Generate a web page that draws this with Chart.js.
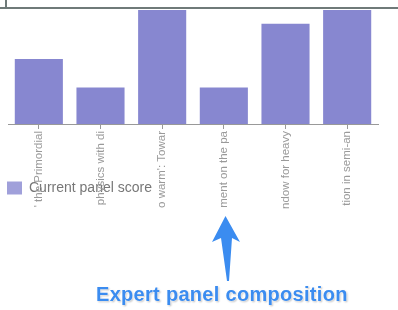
<!DOCTYPE html>
<html>
<head>
<meta charset="utf-8">
<script src="https://cdn.jsdelivr.net/npm/chart.js@4/dist/chart.umd.min.js"></script>
<style>
  html, body { margin: 0; padding: 0; background: #fff; }
  #wrap { position: relative; width: 398px; height: 310px; overflow: hidden; }
  #c { position: absolute; left: 0; top: 0; }
  .frameH { position: absolute; left: 0; top: 7px; width: 398px; height: 2px; background: #6f7a79; }
  .frameV { position: absolute; left: 5px; top: 0; width: 2px; height: 8px; background: #6f7a79; }
  #arrow { position: absolute; left: 0; top: 0; }
  #note { position: absolute; left: 96px; top: 284px; font: bold 20px "Liberation Sans", Arial, sans-serif; line-height: 20px;
          letter-spacing: 0.3px; color: #3b8cf0; white-space: nowrap;
          text-shadow: 0 0 2px #fff, 0 0 3px #fff, 1px 1px 2px rgba(0,0,0,0.35); }
</style>
</head>
<body>
<div id="wrap">
  <canvas id="c" width="398" height="310"></canvas>
  <div class="frameH"></div>
  <div class="frameV"></div>
  <svg id="arrow" width="398" height="310">
    <path d="M225.5,216 L240,242 L232,238 L229,281 L227,281 L221,238 L212,242 Z" fill="#3b8cf0"/>
  </svg>
  <div id="note">Expert panel composition</div>
</div>
<script>
const categories = ["' the Primordial", "physics with di", "o warm': Towar", "ment on the pa", "ndow for heavy", "tion in semi-an"];
const seriesName = "Current panel score";
const scores = [5.7, 3.2, 10, 3.2, 8.8, 10];
const yMin = 0;
const yMax = 10;

const legendLift = {
  id: 'legendLift',
  afterLayout(chart) {
    const lg = chart.legend;
    if (!lg) return;
    const shift = lg.top - 174;
    lg.top -= shift;
    lg.bottom -= shift;
  }
};

new Chart(document.getElementById('c'), {
  type: 'bar',
  data: {
    labels: categories,
    datasets: [{
      label: seriesName,
      data: scores,
      backgroundColor: 'rgb(135,135,208)',
      borderWidth: 0,
      barPercentage: 0.78,
      categoryPercentage: 1.0
    }]
  },
  plugins: [legendLift],
  options: {
    responsive: false,
    animation: false,
    devicePixelRatio: 1,
    layout: { padding: { top: 10, left: 0, right: 20, bottom: 69 } },
    plugins: {
      tooltip: { enabled: false },
      legend: {
        position: 'bottom',
        align: 'start',
        labels: {
          boxWidth: 15, boxHeight: 13, padding: 7,
          color: '#777',
          font: { size: 14, family: 'Liberation Sans, Arial, sans-serif' },
          generateLabels: chart => Chart.defaults.plugins.legend.labels.generateLabels(chart)
            .map(l => Object.assign(l, { fillStyle: 'rgb(160,160,218)', lineWidth: 0 }))
        }
      }
    },
    scales: {
      y: {
        min: yMin, max: yMax,
        display: true,
        ticks: { display: false },
        grid: { display: false },
        border: { display: false },
        afterFit: s => { s.width = 8; }
      },
      x: {
        grid: { offset: false, drawOnChartArea: false, tickLength: 5, color: '#999' },
        border: { color: '#999' },
        ticks: {
          autoSkip: false, maxRotation: 90, minRotation: 90, padding: 2,
          color: '#9a9a9a',
          font: { size: 11.5, family: 'Liberation Sans, Arial, sans-serif' }
        },
        afterFit: s => { s.height = 86; }
      }
    }
  }
});
</script>
</body>
</html>
